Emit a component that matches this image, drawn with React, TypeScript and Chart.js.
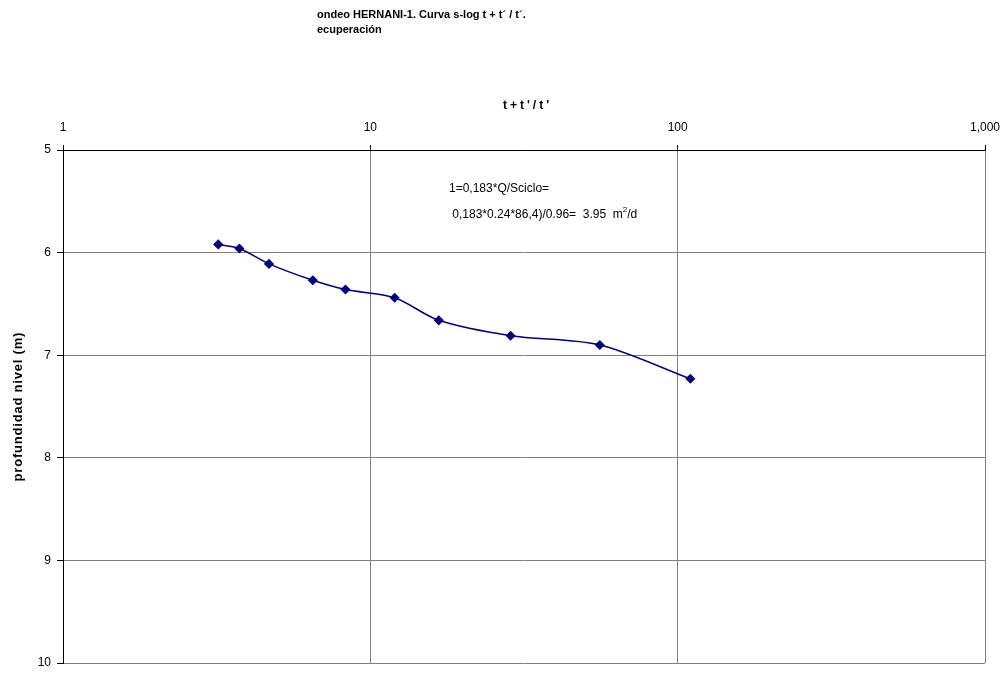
import React, { useEffect, useRef } from "react";
import { Chart, registerables } from "chart.js";

Chart.register(...registerables);

const titleLines = ["ondeo HERNANI-1. Curva s-log t + t´ / t´.", "ecuperación"];
const xAxisTitle = "t+t'/t'";
const yAxisTitle = "profundidad nivel (m)";
const annotationLines = ["1=0,183*Q/Sciclo=", " 0,183*0.24*86,4)/0.96=  3.95  m", "2", "/d"];

const xValues = [3.2, 3.75, 4.68, 6.5, 8.3, 12.0, 16.7, 28.6, 55.8, 110];
const yValues = [5.92, 5.96, 6.11, 6.27, 6.36, 6.44, 6.66, 6.81, 6.90, 7.23];

const xTickValues = [1, 10, 100, 1000];
const xTickLabels = ["1", "10", "100", "1,000"];
const yTickValues = [5, 6, 7, 8, 9, 10];

const FONT = "'Liberation Sans', Arial, sans-serif";

const textPlugin = {
  id: "texts",
  afterDraw(chart: any) {
    const ctx = chart.ctx;
    ctx.save();
    ctx.fillStyle = "#000";
    ctx.textBaseline = "alphabetic";
    // title
    ctx.font = `bold 11px ${FONT}`;
    ctx.textAlign = "left";
    ctx.fillText(titleLines[0], 317, 18);
    ctx.fillText(titleLines[1], 317, 33);
    // x axis title
    ctx.font = `bold 12px ${FONT}`;
    (ctx as any).letterSpacing = "3px";
    const xw = ctx.measureText(xAxisTitle).width - 3;
    ctx.fillText(xAxisTitle, 526 - xw / 2, 109);
    // y axis title
    ctx.font = `bold 13px ${FONT}`;
    (ctx as any).letterSpacing = "0.8px";
    const yw = ctx.measureText(yAxisTitle).width - 0.8;
    ctx.save();
    ctx.translate(22, 407);
    ctx.rotate(-Math.PI / 2);
    ctx.fillText(yAxisTitle, -yw / 2, 0);
    ctx.restore();
    (ctx as any).letterSpacing = "0px";
    // annotation
    ctx.font = `12px ${FONT}`;
    ctx.fillText(annotationLines[0], 449, 192);
    const base = 449;
    ctx.fillText(annotationLines[1], base, 218);
    const w = ctx.measureText(annotationLines[1]).width;
    ctx.font = `8px ${FONT}`;
    ctx.fillText(annotationLines[2], base + w, 212);
    const w2 = ctx.measureText(annotationLines[2]).width;
    ctx.font = `12px ${FONT}`;
    ctx.fillText(annotationLines[3], base + w + w2, 218);
    ctx.restore();
  },
};

export default function App() {
  const ref = useRef<HTMLCanvasElement | null>(null);
  useEffect(() => {
    if (!ref.current) return;
    const chart = new Chart(ref.current, {
      type: "scatter",
      data: {
        datasets: [
          {
            data: xValues.map((x, i) => ({ x, y: yValues[i] })),
            showLine: true,
            borderColor: "#000080",
            backgroundColor: "#000080",
            borderWidth: 1.5,
            tension: 0.3,
            pointStyle: "rectRot",
            pointRadius: 4,
            pointHoverRadius: 4,
          },
        ],
      },
      options: {
        animation: false,
        responsive: false,
        maintainAspectRatio: false,
        layout: { padding: { left: 0, right: 23, top: 0, bottom: 10 } },
        plugins: {
          legend: { display: false },
          tooltip: { enabled: false },
          title: { display: false },
        },
        scales: {
          x: {
            type: "logarithmic",
            position: "top",
            min: 1,
            max: 1000,
            afterFit(scale: any) {
              scale.height = 150;
              scale.paddingLeft = 0;
              scale.paddingRight = 0;
            },
            afterBuildTicks(scale: any) {
              scale.ticks = xTickValues.map((v) => ({ value: v, major: true }));
            },
            ticks: {
              color: "#000",
              font: { family: FONT, size: 12 },
              padding: 10,
              maxRotation: 0,
              autoSkip: false,
              callback(value: any) {
                const i = xTickValues.indexOf(Number(value));
                return i >= 0 ? xTickLabels[i] : "";
              },
            },
            grid: {
              color: "#808080",
              lineWidth: 1,
              tickColor: "#000",
              tickLength: 5,
              drawTicks: true,
            },
            border: { display: true, color: "#000", width: 1 },
          },
          y: {
            type: "linear",
            reverse: true,
            min: 5,
            max: 10,
            afterFit(scale: any) {
              scale.width = 63;
              scale.paddingTop = 0;
              scale.paddingBottom = 0;
            },
            afterBuildTicks(scale: any) {
              scale.ticks = yTickValues.map((v) => ({ value: v }));
            },
            ticks: {
              color: "#000",
              font: { family: FONT, size: 12 },
              padding: 6,
            },
            grid: {
              color: "#808080",
              lineWidth: 1,
              tickColor: "#000",
              tickLength: 6,
            },
            border: { display: true, color: "#000", width: 1 },
          },
        },
      },
      plugins: [textPlugin],
    });
    return () => chart.destroy();
  }, []);
  return (
    <div style={{ position: "absolute", left: 0, top: 0, width: 1008, height: 673, background: "#fff" }}>
      <canvas ref={ref} width={1008} height={673} style={{ width: 1008, height: 673 }} />
    </div>
  );
}
